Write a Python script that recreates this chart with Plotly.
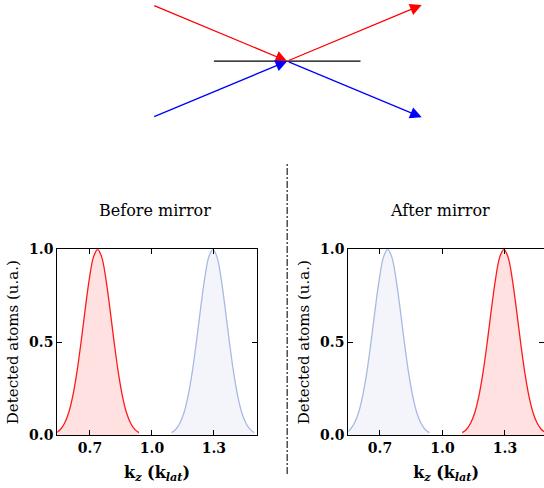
import plotly.graph_objects as go

# ---------------- data ----------------
# momentum peak profile (offset from peak centre, normalised signal)
profile_offset = [-0.20, -0.18, -0.16, -0.14, -0.12, -0.10, -0.08, -0.06, -0.04, -0.02, 0.0,
                  0.02, 0.04, 0.06, 0.08, 0.10, 0.12, 0.14, 0.16, 0.18, 0.20]
profile_value = [0.013, 0.030, 0.063, 0.120, 0.211, 0.339, 0.500, 0.678, 0.841, 0.958, 1.0,
                 0.958, 0.841, 0.678, 0.500, 0.339, 0.211, 0.120, 0.063, 0.030, 0.013]
peak_low = 0.737   # kz of the low-momentum peak
peak_high = 1.295  # kz of the high-momentum peak

panel_titles = ["Before mirror", "After mirror"]
# which beam sits at which peak in each panel
red_centre = [peak_low, peak_high]
blue_centre = [peak_high, peak_low]

x_tickvals = [0.7, 1.0, 1.3]
x_ticktext = ["0.7", "1.0", "1.3"]
y_tickvals = [0.0, 0.5, 1.0]
y_ticktext = ["0.0", "0.5", "1.0"]

# schematic: beams reflected at a mirror (abstract units)
beam_x = [-1.0, 0.0, 1.0]
red_beam_y = [1.0, 0.0, 1.0]
blue_beam_y = [-1.0, 0.0, -1.0]
mirror_x = [-0.545, 0.545]
mirror_y = [0.0, 0.0]

# ---------------- figure ----------------
W, H = 544, 488
FONT = "DejaVu Serif"
RED = "#ff1a1a"
RED_FILL = "rgba(255,40,40,0.14)"
BLUE = "#a9b9e2"
BLUE_FILL = "rgba(200,210,235,0.22)"

fig = go.Figure()

axes = ["", "2"]
for i in range(2):
    xa, ya = "x" + axes[i], "y" + axes[i]
    bx = [blue_centre[i] + o for o in profile_offset]
    rx = [red_centre[i] + o for o in profile_offset]
    fig.add_trace(go.Scatter(x=bx, y=profile_value, mode="lines", line=dict(color=BLUE, width=1.3, shape="spline"),
                             fill="tozeroy", fillcolor=BLUE_FILL, xaxis=xa, yaxis=ya, showlegend=False))
    fig.add_trace(go.Scatter(x=rx, y=profile_value, mode="lines", line=dict(color=RED, width=1.3, shape="spline"),
                             fill="tozeroy", fillcolor=RED_FILL, xaxis=xa, yaxis=ya, showlegend=False))

# mirror line in schematic
fig.add_trace(go.Scatter(x=mirror_x, y=mirror_y, mode="lines", line=dict(color="black", width=1.3),
                         xaxis="x3", yaxis="y3", showlegend=False, hoverinfo="skip"))

# beams as arrows (data coordinates of schematic axes)
for beam_y, col in [(red_beam_y, "red"), (blue_beam_y, "blue")]:
    for j in range(2):
        fig.add_annotation(x=beam_x[j + 1], y=beam_y[j + 1], ax=beam_x[j], ay=beam_y[j],
                           xref="x3", yref="y3", axref="x3", ayref="y3", text="",
                           showarrow=True, arrowhead=2, arrowsize=1.8, arrowwidth=1.3,
                           arrowcolor=col)

def px_x(p):
    return p / W

def px_y(p):
    return 1 - p / H

axis_common = dict(showline=True, linecolor="black", linewidth=1.2, mirror="ticks", ticks="inside",
                   ticklen=5, tickwidth=1, tickcolor="black", showgrid=False, zeroline=False,
                   tickfont=dict(family=FONT, size=14, color="black", weight="bold"), automargin=False)

xtitle = dict(text="<b>k<sub><i>z</i></sub> (k<sub><i>lat</i></sub>)</b>", standoff=11,
              font=dict(family=FONT, size=16, weight="bold"))
ytitle = dict(text="Detected atoms (u.a.)", standoff=6, font=dict(family=FONT, size=15))

ydom = [px_y(435), px_y(249.3)]
fig.update_layout(
    width=W, height=H, margin=dict(l=0, r=0, t=0, b=0),
    paper_bgcolor="white", plot_bgcolor="white",
    font=dict(family=FONT, size=14, color="black"),
    xaxis=dict(domain=[px_x(57.3), px_x(256.7)], range=[0.542, 1.507], anchor="y",
               tickvals=x_tickvals, ticktext=x_ticktext, title=xtitle, **axis_common),
    yaxis=dict(domain=ydom, range=[0, 1], anchor="x", tickvals=y_tickvals, ticktext=y_ticktext,
               title=ytitle, **axis_common),
    xaxis2=dict(domain=[px_x(348.3), 1.0], range=[0.548, 1.4875], anchor="y2",
                tickvals=x_tickvals, ticktext=x_ticktext, title=xtitle, **axis_common),
    yaxis2=dict(domain=ydom, range=[0, 1], anchor="x2", tickvals=y_tickvals, ticktext=y_ticktext,
                title=ytitle, **axis_common),
    xaxis3=dict(domain=[0, 1], range=[-2.135, 1.909], anchor="y3", visible=False),
    yaxis3=dict(domain=[px_y(130), 1], range=[-1.226, 1.089], anchor="x3", visible=False),
)

# panel titles
title_x = [154.5, 440]
for i in range(2):
    fig.add_annotation(text=panel_titles[i], x=px_x(title_x[i]), y=px_y(210.7), xref="paper", yref="paper",
                       showarrow=False, xanchor="center", yanchor="middle", font=dict(family=FONT, size=16))

# dash-dot divider through the mirror centre
fig.add_shape(type="line", xref="x3", yref="paper", x0=0, x1=0, y0=px_y(474), y1=px_y(163),
              line=dict(color="#333333", width=1.3, dash="7px,2px,2px,2px"))

fig.write_html("out.html", config={"displayModeBar": False},
               post_script="document.body.style.margin='0px';document.body.style.overflow='hidden';")
